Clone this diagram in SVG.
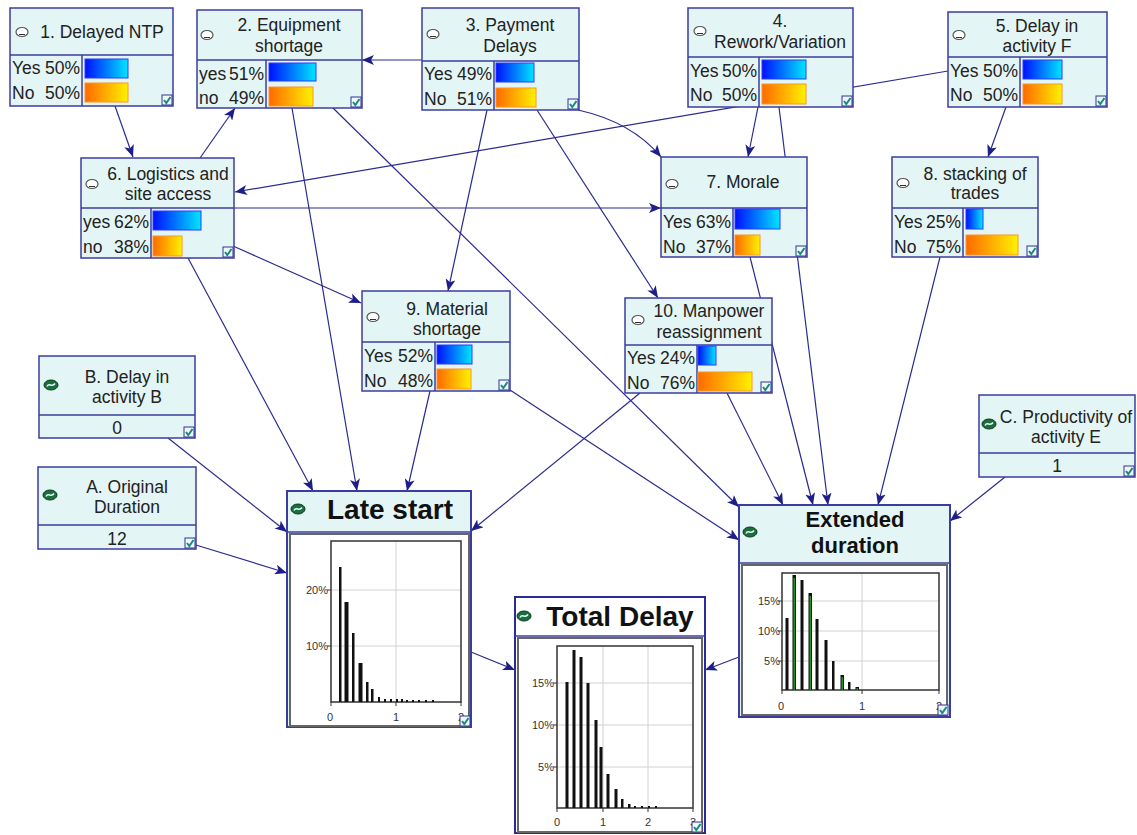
<svg xmlns="http://www.w3.org/2000/svg" xmlns:xlink="http://www.w3.org/1999/xlink" width="1137" height="835" viewBox="0 0 1137 835">
<defs>
<style>
.nb{fill:#e4f5f5;stroke:#3c3ca0;stroke-width:1.5}
.nbw{fill:#ffffff;stroke:#2a2a9a;stroke-width:2}
.dv{stroke:#3c3ca0;stroke-width:1.5}
.t{font-family:"Liberation Sans",Arial,sans-serif;font-size:17.5px;fill:#222}
.tm{text-anchor:middle}
.te{text-anchor:end}
.big{font-family:"Liberation Sans",Arial,sans-serif;font-weight:bold;fill:#111;text-anchor:middle}
.bb{fill:url(#gb);stroke:#2a3cff;stroke-width:1}
.ob{fill:url(#go);stroke:#ff9424;stroke-width:1}
.cn line,.cn path{stroke:#2b2b8f;stroke-width:1.2;fill:none;marker-end:url(#arr)}
.ax{font-family:"Liberation Sans",Arial,sans-serif;font-size:11px;fill:#333}
.grid{stroke:#d2d2d2;stroke-width:1}
.pl{fill:none;stroke:#333;stroke-width:1.5}
.pan{fill:#fff;stroke:#666;stroke-width:2}
.tk{stroke:#333;stroke-width:1}
.bar{fill:#111}
.gr{fill:#1a9a1a}
</style>
<linearGradient id="gb" x1="0" y1="0" x2="1" y2="0"><stop offset="0" stop-color="#0010ff"/><stop offset="1" stop-color="#00e6ff"/></linearGradient>
<linearGradient id="go" x1="0" y1="0" x2="1" y2="0"><stop offset="0" stop-color="#ff6a00"/><stop offset="1" stop-color="#fff200"/></linearGradient>
<marker id="arr" viewBox="0 0 12 10" refX="12" refY="5" markerWidth="12" markerHeight="10" orient="auto" markerUnits="userSpaceOnUse"><path d="M0,0 L12,5 L0,10 L3,5 z" fill="#1e1e8a"/></marker>
<g id="chk"><rect x="0" y="0" width="10" height="10" fill="#eef8f8" stroke="#33339a" stroke-width="1"/><path d="M2,5 L4.3,8 L8.5,2" fill="none" stroke="#1a8a7a" stroke-width="2"/></g>
<g id="ov"><ellipse cx="0" cy="0" rx="6" ry="4.5" fill="#fff" stroke="#555" stroke-width="1.2"/><line x1="-3" y1="2.5" x2="3" y2="2.5" stroke="#333" stroke-width="1"/></g>
<g id="gi"><ellipse cx="0" cy="0" rx="7" ry="5" fill="#1c6e3c" stroke="#0c3a1c" stroke-width="1"/><path d="M-4,1.5 C-2,-3 1,3 4,-1.5" fill="none" stroke="#dff" stroke-width="1.5"/></g>
</defs>

<g id="connectors" class="cn">
<line x1="115" y1="106" x2="133" y2="157"/>
<line x1="200" y1="158" x2="235" y2="108"/>
<line x1="422" y1="60" x2="362" y2="60"/>
<line x1="292" y1="108" x2="357" y2="491"/>
<line x1="333" y1="108" x2="739" y2="507"/>
<line x1="487" y1="110" x2="448" y2="291"/>
<line x1="537" y1="110" x2="658" y2="298"/>
<path d="M578,110 Q632,122 661,157"/>
<line x1="758" y1="107" x2="748" y2="157"/>
<line x1="779" y1="107" x2="828" y2="505"/>
<line x1="948" y1="71" x2="235" y2="192"/>
<line x1="1006" y1="107" x2="988" y2="157"/>
<line x1="234" y1="208" x2="661" y2="208"/>
<line x1="233" y1="246" x2="361" y2="303"/>
<line x1="188" y1="258" x2="313" y2="491"/>
<line x1="430" y1="391" x2="407" y2="491"/>
<line x1="510" y1="390" x2="739" y2="540"/>
<line x1="640" y1="393" x2="471" y2="531"/>
<line x1="727" y1="393" x2="783" y2="505"/>
<line x1="750" y1="257" x2="813" y2="505"/>
<line x1="940" y1="257" x2="878" y2="505"/>
<line x1="1005" y1="477" x2="950" y2="521"/>
<line x1="168" y1="438" x2="287" y2="532"/>
<line x1="196" y1="545" x2="287" y2="573"/>
<line x1="471" y1="652" x2="515" y2="670"/>
<line x1="739" y1="657" x2="705" y2="670"/>
</g>

<g id="n1">
<rect class="nb" x="10" y="8" width="163" height="98"/>
<line class="dv" x1="10" y1="55" x2="173" y2="55"/>
<line class="dv" x1="82" y1="55" x2="82" y2="106"/>
<use href="#ov" x="22" y="32"/>
<text class="t tm" x="102" y="38">1. Delayed NTP</text>
<text class="t" x="12" y="74">Yes</text><text class="t te" x="80" y="74">50%</text>
<text class="t" x="12" y="99">No</text><text class="t te" x="80" y="99">50%</text>
<rect class="bb" x="85" y="59" width="43" height="19"/>
<rect class="ob" x="85" y="83" width="43" height="19"/>
<use href="#chk" x="162" y="95"/>
</g>

<g id="n2">
<rect class="nb" x="197" y="10" width="165" height="98"/>
<line class="dv" x1="197" y1="60" x2="362" y2="60"/>
<line class="dv" x1="266" y1="60" x2="266" y2="108"/>
<use href="#ov" x="207" y="35"/>
<text class="t tm" x="289" y="31">2. Equipment</text>
<text class="t tm" x="289" y="52">shortage</text>
<text class="t" x="199" y="80">yes</text><text class="t te" x="264" y="80">51%</text>
<text class="t" x="199" y="104">no</text><text class="t te" x="264" y="104">49%</text>
<rect class="bb" x="269" y="63" width="47" height="18"/>
<rect class="ob" x="269" y="87" width="44" height="19"/>
<use href="#chk" x="351" y="97"/>
</g>

<g id="n3">
<rect class="nb" x="422" y="8" width="157" height="102"/>
<line class="dv" x1="422" y1="61" x2="579" y2="61"/>
<line class="dv" x1="494" y1="61" x2="494" y2="110"/>
<use href="#ov" x="433" y="34"/>
<text class="t tm" x="510" y="31">3. Payment</text>
<text class="t tm" x="510" y="52">Delays</text>
<text class="t" x="424" y="80">Yes</text><text class="t te" x="492" y="80">49%</text>
<text class="t" x="424" y="105">No</text><text class="t te" x="492" y="105">51%</text>
<rect class="bb" x="496" y="63" width="38" height="19"/>
<rect class="ob" x="496" y="88" width="40" height="19"/>
<use href="#chk" x="568" y="99"/>
</g>

<g id="n4">
<rect class="nb" x="688" y="8" width="165" height="99"/>
<line class="dv" x1="688" y1="57" x2="853" y2="57"/>
<line class="dv" x1="759" y1="57" x2="759" y2="107"/>
<use href="#ov" x="700" y="31"/>
<text class="t tm" x="780" y="27">4.</text>
<text class="t tm" x="780" y="48">Rework/Variation</text>
<text class="t" x="690" y="77">Yes</text><text class="t te" x="757" y="77">50%</text>
<text class="t" x="690" y="101">No</text><text class="t te" x="757" y="101">50%</text>
<rect class="bb" x="762" y="60" width="44" height="19"/>
<rect class="ob" x="762" y="84" width="44" height="20"/>
<use href="#chk" x="842" y="96"/>
</g>

<g id="n5">
<rect class="nb" x="948" y="12" width="159" height="95"/>
<line class="dv" x1="948" y1="57" x2="1107" y2="57"/>
<line class="dv" x1="1020" y1="57" x2="1020" y2="107"/>
<use href="#ov" x="959" y="35"/>
<text class="t tm" x="1037" y="32">5. Delay in</text>
<text class="t tm" x="1037" y="52">activity F</text>
<text class="t" x="950" y="77">Yes</text><text class="t te" x="1018" y="77">50%</text>
<text class="t" x="950" y="101">No</text><text class="t te" x="1018" y="101">50%</text>
<rect class="bb" x="1023" y="60" width="39" height="19"/>
<rect class="ob" x="1023" y="84" width="39" height="20"/>
<use href="#chk" x="1096" y="96"/>
</g>

<g id="n6">
<rect class="nb" x="81" y="158" width="153" height="100"/>
<line class="dv" x1="81" y1="208" x2="234" y2="208"/>
<line class="dv" x1="151" y1="208" x2="151" y2="258"/>
<use href="#ov" x="92" y="184"/>
<text class="t tm" x="168" y="180">6. Logistics and</text>
<text class="t tm" x="168" y="200">site access</text>
<text class="t" x="83" y="228">yes</text><text class="t te" x="149" y="228">62%</text>
<text class="t" x="83" y="253">no</text><text class="t te" x="149" y="253">38%</text>
<rect class="bb" x="153" y="211" width="48" height="19"/>
<rect class="ob" x="153" y="236" width="29" height="20"/>
<use href="#chk" x="223" y="247"/>
</g>

<g id="n7">
<rect class="nb" x="661" y="157" width="146" height="100"/>
<line class="dv" x1="661" y1="208" x2="807" y2="208"/>
<line class="dv" x1="733" y1="208" x2="733" y2="257"/>
<use href="#ov" x="672" y="184"/>
<text class="t tm" x="743" y="188">7. Morale</text>
<text class="t" x="663" y="228">Yes</text><text class="t te" x="731" y="228">63%</text>
<text class="t" x="663" y="253">No</text><text class="t te" x="731" y="253">37%</text>
<rect class="bb" x="735" y="209" width="45" height="20"/>
<rect class="ob" x="735" y="235" width="25" height="20"/>
<use href="#chk" x="796" y="246"/>
</g>

<g id="n8">
<rect class="nb" x="892" y="157" width="146" height="100"/>
<line class="dv" x1="892" y1="208" x2="1038" y2="208"/>
<line class="dv" x1="963" y1="208" x2="963" y2="257"/>
<use href="#ov" x="903" y="183"/>
<text class="t tm" x="975" y="180">8. stacking of</text>
<text class="t tm" x="975" y="199">trades</text>
<text class="t" x="894" y="228">Yes</text><text class="t te" x="961" y="228">25%</text>
<text class="t" x="894" y="253">No</text><text class="t te" x="961" y="253">75%</text>
<rect class="bb" x="966" y="209" width="17" height="20"/>
<rect class="ob" x="966" y="235" width="52" height="20"/>
<use href="#chk" x="1027" y="246"/>
</g>

<g id="n9">
<rect class="nb" x="362" y="291" width="148" height="100"/>
<line class="dv" x1="362" y1="342" x2="510" y2="342"/>
<line class="dv" x1="435" y1="342" x2="435" y2="391"/>
<use href="#ov" x="373" y="317"/>
<text class="t tm" x="447" y="315">9. Material</text>
<text class="t tm" x="447" y="335">shortage</text>
<text class="t" x="364" y="362">Yes</text><text class="t te" x="433" y="362">52%</text>
<text class="t" x="364" y="387">No</text><text class="t te" x="433" y="387">48%</text>
<rect class="bb" x="437" y="345" width="35" height="19"/>
<rect class="ob" x="437" y="369" width="34" height="20"/>
<use href="#chk" x="499" y="380"/>
</g>

<g id="n10">
<rect class="nb" x="625" y="298" width="147" height="95"/>
<line class="dv" x1="625" y1="345" x2="772" y2="345"/>
<line class="dv" x1="697" y1="345" x2="697" y2="393"/>
<use href="#ov" x="638" y="320"/>
<text class="t tm" x="709" y="317">10. Manpower</text>
<text class="t tm" x="709" y="338">reassignment</text>
<text class="t" x="627" y="364">Yes</text><text class="t te" x="695" y="364">24%</text>
<text class="t" x="627" y="389">No</text><text class="t te" x="695" y="389">76%</text>
<rect class="bb" x="698" y="346" width="18" height="19"/>
<rect class="ob" x="698" y="372" width="54" height="19"/>
<use href="#chk" x="761" y="382"/>
</g>

<g id="nB">
<rect class="nb" x="39" y="356" width="156" height="82"/>
<line class="dv" x1="39" y1="415" x2="195" y2="415"/>
<use href="#gi" x="51" y="385"/>
<text class="t tm" x="127" y="383">B. Delay in</text>
<text class="t tm" x="127" y="403">activity B</text>
<text class="t tm" x="117" y="434">0</text>
<use href="#chk" x="184" y="427"/>
</g>

<g id="nA">
<rect class="nb" x="38" y="467" width="158" height="82"/>
<line class="dv" x1="38" y1="525" x2="196" y2="525"/>
<use href="#gi" x="50" y="495"/>
<text class="t tm" x="127" y="493">A. Original</text>
<text class="t tm" x="127" y="513">Duration</text>
<text class="t tm" x="117" y="545">12</text>
<use href="#chk" x="185" y="538"/>
</g>

<g id="nC">
<rect class="nb" x="979" y="395" width="156" height="82"/>
<line class="dv" x1="979" y1="453" x2="1135" y2="453"/>
<use href="#gi" x="989" y="424"/>
<text class="t tm" x="1066" y="423">C. Productivity of</text>
<text class="t tm" x="1066" y="443">activity E</text>
<text class="t tm" x="1057" y="472">1</text>
<use href="#chk" x="1124" y="466"/>
</g>

<g id="late">
<rect class="nb" x="287" y="491" width="184" height="236" style="stroke-width:2"/>
<line class="dv" x1="287" y1="532" x2="471" y2="532"/>
<use href="#gi" x="298" y="509"/>
<text class="big" x="390" y="519" font-size="28">Late start</text>
<rect class="pan" x="290" y="534" width="179" height="192"/>
<line class="grid" x1="396" y1="541" x2="396" y2="702"/>
<line class="grid" x1="331" y1="590" x2="461" y2="590"/>
<line class="grid" x1="331" y1="646" x2="461" y2="646"/>
<rect class="pl" x="331" y="541" width="130" height="161"/>
<line class="tk" x1="327" y1="590" x2="331" y2="590"/>
<line class="tk" x1="327" y1="646" x2="331" y2="646"/>
<line class="tk" x1="331" y1="702" x2="331" y2="706"/>
<line class="tk" x1="396" y1="702" x2="396" y2="706"/>
<line class="tk" x1="461" y1="702" x2="461" y2="706"/>
<text class="ax te" x="328" y="594">20%</text>
<text class="ax te" x="328" y="650">10%</text>
<text class="ax tm" x="330" y="721">0</text>
<text class="ax tm" x="396" y="721">1</text>
<text class="ax tm" x="461" y="721">2</text>
<rect class="bar" x="339" y="567" width="2.5" height="135"/>
<rect class="bar" x="344.5" y="602" width="4" height="100"/>
<rect class="bar" x="352" y="633" width="2.5" height="69"/>
<rect class="bar" x="358.5" y="663" width="4" height="39"/>
<rect class="bar" x="366" y="682" width="2.5" height="20"/>
<rect class="bar" x="371" y="689" width="2.5" height="13"/>
<rect class="bar" x="378" y="697" width="2" height="5"/>
<rect class="bar" x="384" y="699" width="2" height="3"/>
<rect class="bar" x="390" y="699" width="2" height="3"/>
<rect class="bar" x="396" y="699" width="2" height="3"/>
<rect class="bar" x="401" y="699" width="2" height="3"/>
<rect class="bar" x="406" y="700" width="2" height="2"/>
<rect class="bar" x="412" y="700" width="2" height="2"/>
<rect class="bar" x="418" y="700" width="2" height="2"/>
<rect class="bar" x="425" y="700" width="2" height="2"/>
<rect class="bar" x="432" y="700" width="2" height="2"/>
<use href="#chk" x="460" y="716"/>
</g>

<g id="ext">
<rect class="nb" x="739" y="505" width="211" height="212" style="stroke-width:2"/>
<line class="dv" x1="739" y1="563" x2="950" y2="563"/>
<use href="#gi" x="750" y="532"/>
<text class="big" x="855" y="527" font-size="22">Extended</text>
<text class="big" x="855" y="553" font-size="22">duration</text>
<rect class="pan" x="742" y="565" width="205" height="150"/>
<line class="grid" x1="862" y1="573" x2="862" y2="690"/>
<line class="grid" x1="782" y1="601" x2="939" y2="601"/>
<line class="grid" x1="782" y1="631" x2="939" y2="631"/>
<line class="grid" x1="782" y1="661" x2="939" y2="661"/>
<rect class="pl" x="782" y="573" width="157" height="117"/>
<line class="tk" x1="778" y1="601" x2="782" y2="601"/>
<line class="tk" x1="778" y1="631" x2="782" y2="631"/>
<line class="tk" x1="778" y1="661" x2="782" y2="661"/>
<line class="tk" x1="782" y1="690" x2="782" y2="694"/>
<line class="tk" x1="862" y1="690" x2="862" y2="694"/>
<line class="tk" x1="939" y1="690" x2="939" y2="694"/>
<text class="ax te" x="780" y="605">15%</text>
<text class="ax te" x="780" y="635">10%</text>
<text class="ax te" x="780" y="665">5%</text>
<text class="ax tm" x="781" y="710">0</text>
<text class="ax tm" x="862" y="710">1</text>
<text class="ax tm" x="939" y="710">2</text>
<rect class="bar" x="785.5" y="618" width="3" height="72"/>
<rect class="bar" x="792.5" y="575" width="3.5" height="115"/><rect class="gr" x="793.5" y="578" width="1.5" height="112"/>
<rect class="bar" x="800.5" y="580" width="3" height="110"/>
<rect class="bar" x="808.5" y="593" width="3.5" height="97"/><rect class="gr" x="809.5" y="596" width="1.5" height="94"/>
<rect class="bar" x="815.5" y="619" width="3" height="71"/>
<rect class="bar" x="824.5" y="640" width="3" height="50"/>
<rect class="bar" x="832" y="661" width="2.5" height="29"/>
<rect class="bar" x="840.5" y="675" width="3.5" height="15"/><rect class="gr" x="841.5" y="677" width="1.5" height="13"/>
<rect class="bar" x="848" y="682" width="2.5" height="8"/>
<rect class="bar" x="855.5" y="687" width="3.5" height="3"/><rect class="gr" x="856.5" y="688" width="1.5" height="2"/>
<use href="#chk" x="938" y="705"/>
</g>

<g id="total">
<rect class="nbw" x="515" y="597" width="190" height="236"/>
<line class="dv" x1="515" y1="636" x2="705" y2="636"/>
<use href="#gi" x="524" y="616"/>
<text class="big" x="620" y="626" font-size="28">Total Delay</text>
<rect class="pan" x="518" y="638" width="184" height="194"/>
<line class="grid" x1="603" y1="646" x2="603" y2="808"/>
<line class="grid" x1="648" y1="646" x2="648" y2="808"/>
<line class="grid" x1="557" y1="683" x2="693" y2="683"/>
<line class="grid" x1="557" y1="725" x2="693" y2="725"/>
<line class="grid" x1="557" y1="767" x2="693" y2="767"/>
<rect class="pl" x="557" y="646" width="136" height="162"/>
<line class="tk" x1="553" y1="683" x2="557" y2="683"/>
<line class="tk" x1="553" y1="725" x2="557" y2="725"/>
<line class="tk" x1="553" y1="767" x2="557" y2="767"/>
<line class="tk" x1="557" y1="808" x2="557" y2="812"/>
<line class="tk" x1="603" y1="808" x2="603" y2="812"/>
<line class="tk" x1="648" y1="808" x2="648" y2="812"/>
<line class="tk" x1="693" y1="808" x2="693" y2="812"/>
<text class="ax te" x="554" y="687">15%</text>
<text class="ax te" x="554" y="729">10%</text>
<text class="ax te" x="554" y="771">5%</text>
<text class="ax tm" x="557" y="826">0</text>
<text class="ax tm" x="603" y="826">1</text>
<text class="ax tm" x="648" y="826">2</text>
<text class="ax tm" x="693" y="826">3</text>
<rect class="bar" x="565.5" y="682" width="3" height="126"/>
<rect class="bar" x="572.5" y="650" width="3" height="158"/>
<rect class="bar" x="579.5" y="657" width="3" height="151"/>
<rect class="bar" x="586.5" y="683" width="3" height="125"/>
<rect class="bar" x="594.5" y="720" width="3" height="88"/>
<rect class="bar" x="599.5" y="747" width="3" height="61"/>
<rect class="bar" x="606.5" y="774" width="3" height="34"/>
<rect class="bar" x="614.5" y="789" width="3" height="19"/>
<rect class="bar" x="621" y="799" width="2.5" height="9"/>
<rect class="bar" x="628" y="804" width="2.5" height="4"/>
<rect class="bar" x="634" y="806" width="2" height="2"/>
<rect class="bar" x="641" y="806" width="2" height="2"/>
<rect class="bar" x="648" y="806" width="2" height="2"/>
<rect class="bar" x="655" y="806" width="2" height="2"/>
<use href="#chk" x="692" y="822"/>
</g>
</svg>
